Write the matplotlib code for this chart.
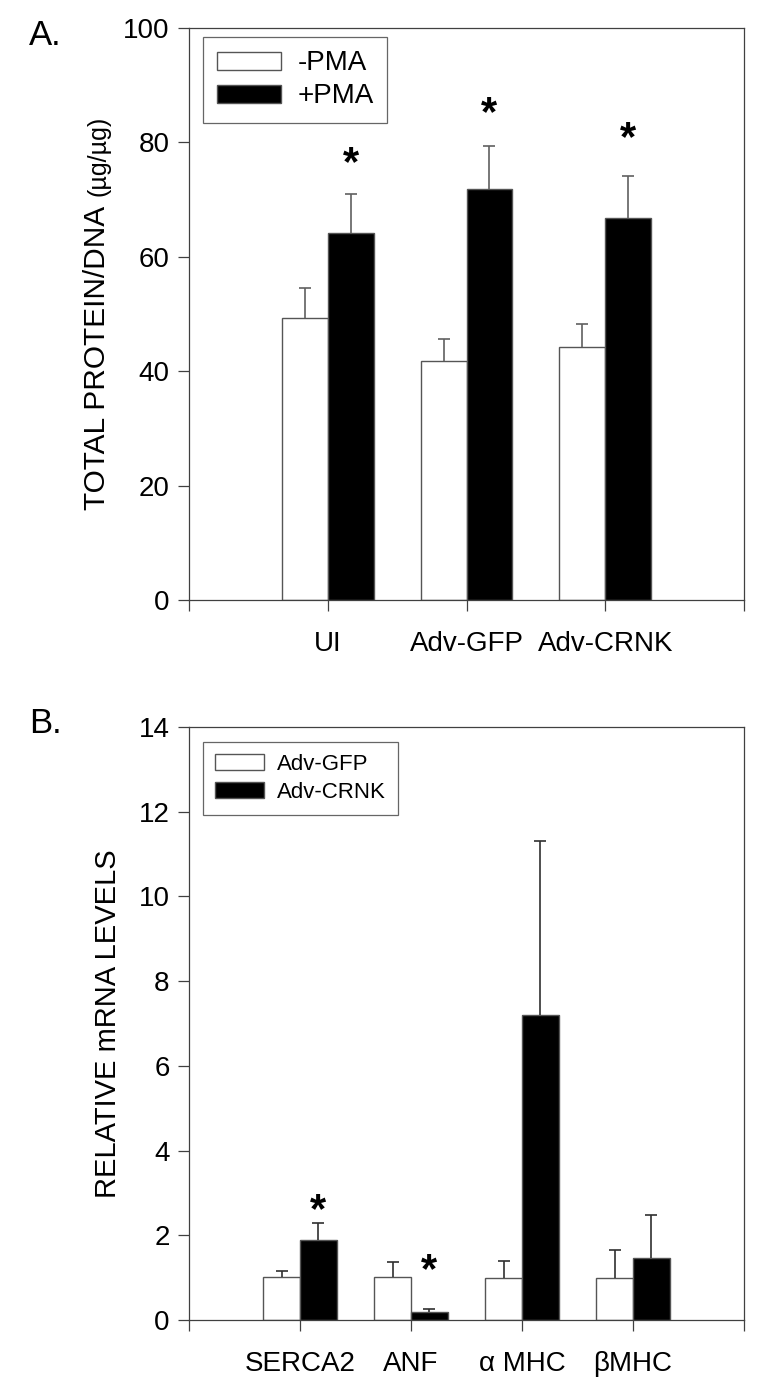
import numpy as np
import matplotlib
matplotlib.use("Agg")
import matplotlib.pyplot as plt

plt.rcParams['font.family'] = ['Liberation Sans', 'DejaVu Sans']

# panel A data
groups_a = ["UI", "Adv-GFP", "Adv-CRNK"]
minus_pma = [49.3, 41.7, 44.3]
minus_pma_err = [5.2, 4.0, 3.9]
plus_pma = [64.2, 71.8, 66.7]
plus_pma_err = [6.7, 7.5, 7.5]
stars_a = [78.4, 87.2, 82.8]

# panel B data
genes_b = ["SERCA2", "ANF", "α MHC", "βMHC"]
gfp = [1.01, 1.01, 1.0, 0.98]
gfp_err = [0.14, 0.35, 0.39, 0.67]
crnk = [1.89, 0.19, 7.19, 1.47]
crnk_err = [0.39, 0.06, 4.13, 1.02]
stars_b = [2.86, 1.46, None, None]

W = 0.33
edge = "#555555"


def style_axes(ax, ncat, ymax, ystep):
    ax.set_xlim(0, ncat + 1)
    ax.set_ylim(0, ymax)
    ax.set_xticks(range(ncat + 2))
    ax.set_yticks(np.arange(0, ymax + 0.1, ystep))
    ax.tick_params(direction='out', length=8, width=0.9, color='#404040',
                   labelsize=20, pad=6)
    ax.tick_params(axis='x', pad=14)
    for s in ax.spines.values():
        s.set_color('#404040')
        s.set_linewidth(0.9)


def draw(ax, x, v1, e1, v2, e2, l1, l2, ecol, cap):
    ax.bar(x - W / 2, v1, W, color='white', edgecolor=edge, linewidth=1, label=l1)
    ax.bar(x + W / 2, v2, W, color='black', edgecolor=edge, linewidth=1, label=l2)
    for xs, v, e in ((x - W / 2, v1, e1), (x + W / 2, v2, e2)):
        # upper error only, no cap on the bar top
        eb = ax.errorbar(xs, v, yerr=[np.zeros(len(v)), e], fmt='none',
                         ecolor=ecol, elinewidth=1.2, capsize=cap, capthick=1.2)
        eb[1][0].set_visible(False)


def star(ax, x, y):
    ax.annotate("*", (x, y), xytext=(0, -17), textcoords='offset points',
                ha='center', va='baseline', fontsize=30, fontweight='bold')


fig = plt.figure(figsize=(7.77, 13.98), dpi=100)

# ---- A ----
axA = fig.add_axes([189 / 777, 1 - 600 / 1398, (744 - 189) / 777, 572 / 1398])
xa = np.arange(1, len(groups_a) + 1)
draw(axA, xa, minus_pma, minus_pma_err, plus_pma, plus_pma_err,
     "-PMA", "+PMA", '#606060', 4.5)
style_axes(axA, len(groups_a), 100, 20)
axA.set_xticklabels([""] + groups_a + [""])
for xi, s in zip(xa, stars_a):
    star(axA, xi + W / 2, s)
# y label: main part plus smaller unit
fig.text(97 / 777, 1 - 510 / 1398, "TOTAL PROTEIN/DNA", rotation=90,
         fontsize=21.5, ha='center', va='bottom')
fig.text(98.5 / 777, 1 - 196 / 1398, "(µg/µg)", rotation=90,
         fontsize=18, ha='center', va='bottom')
legA = axA.legend(loc='upper left', bbox_to_anchor=(0.025, 0.985), borderaxespad=0,
                  fontsize=20, frameon=True, fancybox=False, handlelength=2.3,
                  handleheight=0.62, handletextpad=0.6, labelspacing=0.25,
                  borderpad=0.5)
legA.get_frame().set_edgecolor('#404040')
legA.get_frame().set_linewidth(0.9)
fig.text(29 / 777, 1 - 45 / 1398, "A.", fontsize=25, ha='left', va='baseline')

# ---- B ----
axB = fig.add_axes([189 / 777, 1 - 1320 / 1398, (744 - 189) / 777, 593 / 1398])
xb = np.arange(1, len(genes_b) + 1)
draw(axB, xb, gfp, gfp_err, crnk, crnk_err, "Adv-GFP", "Adv-CRNK", '#303030', 4)
style_axes(axB, len(genes_b), 14, 2)
axB.set_xticklabels([""] + genes_b + [""])
for xi, s in zip(xb, stars_b):
    if s is not None:
        star(axB, xi + W / 2, s)
axB.set_ylabel("RELATIVE mRNA LEVELS", fontsize=21, labelpad=12)
legB = axB.legend(loc='upper left', bbox_to_anchor=(0.025, 0.975), borderaxespad=0,
                  fontsize=16, frameon=True, fancybox=False, handlelength=2.2,
                  handleheight=0.75, handletextpad=0.6, labelspacing=0.3,
                  borderpad=0.55)
legB.get_frame().set_edgecolor('#404040')
legB.get_frame().set_linewidth(0.9)
fig.text(29 / 777, 1 - 733 / 1398, "B.", fontsize=25, ha='left', va='baseline')

fig.savefig("out.png", dpi=100)
